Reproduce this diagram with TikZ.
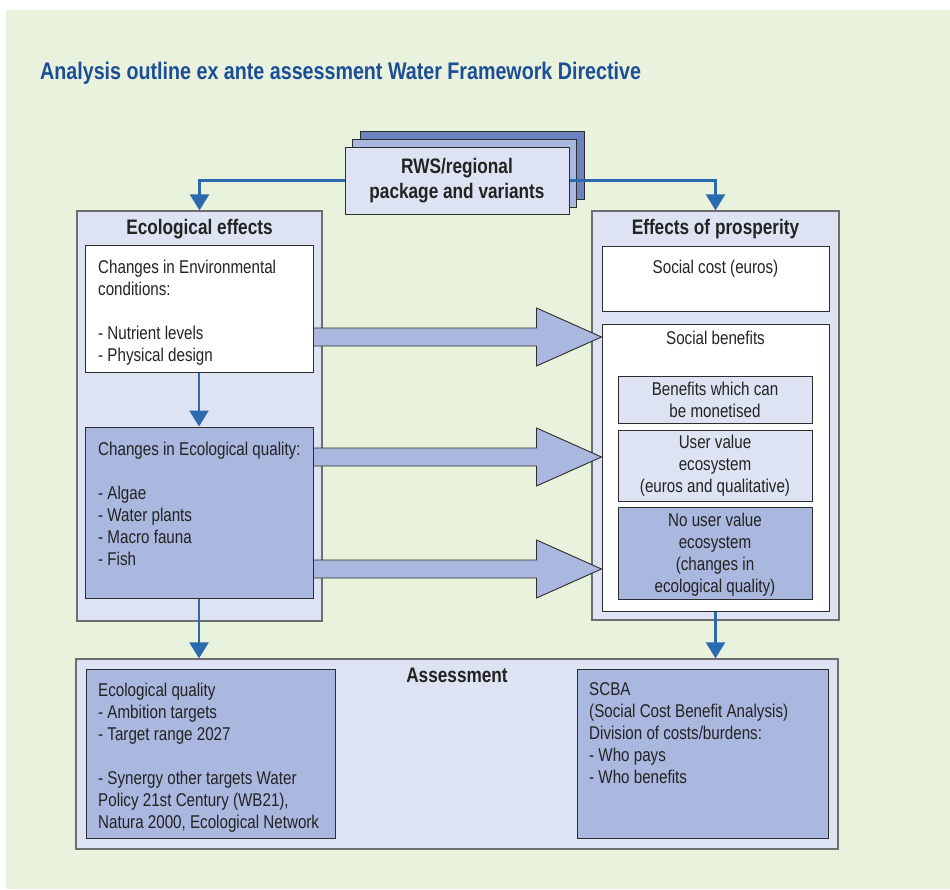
\documentclass[tikz,border=0pt]{standalone}
\usepackage{fontspec}
\setmainfont{Liberation Sans}[FakeStretch=0.82]
\usetikzlibrary{arrows.meta,calc}
\definecolor{bggreen}{RGB}{232,242,221}
\definecolor{paleblue}{RGB}{221,227,242}
\definecolor{midblue}{RGB}{170,183,222}
\definecolor{darkblue}{RGB}{108,131,192}
\definecolor{linkblue}{RGB}{44,106,176}
\definecolor{titleblue}{RGB}{28,78,152}
\definecolor{txt}{RGB}{35,35,35}
\definecolor{outerline}{RGB}{110,110,110}
\definecolor{innerline}{RGB}{45,45,45}
\tikzset{
  outerbox/.style={rectangle, draw=outerline, fill=paleblue, line width=1.2pt, inner sep=0},
  whitebox/.style={rectangle, draw=innerline, fill=white, line width=1pt, inner sep=0},
  midbox/.style={rectangle, draw=innerline, fill=midblue, line width=1pt, inner sep=0},
  paleinner/.style={rectangle, draw=innerline, fill=paleblue, line width=1pt, inner sep=0},
  darkinner/.style={rectangle, draw=innerline, fill=darkblue, line width=1pt, inner sep=0},
  body/.style={font=\fontsize{18.5}{22}\selectfont, text=txt, inner sep=0},
  head/.style={font=\fontsize{21}{25}\selectfont\bfseries, text=txt, inner sep=0},
  link/.style={draw=linkblue, line width=2.4pt, -{Triangle[width=19pt,length=16pt]}},
  barrow/.style={draw=innerline, fill=midblue, line width=0.9pt, line join=miter}
}
\begin{document}
\begin{tikzpicture}[x=1pt,y=-1pt]
\useasboundingbox (0,0) rectangle (950,889);
\fill[white] (0,0) rectangle (950,889);
\fill[bggreen] (6,10) rectangle (950,889);

% title
\node[anchor=base west, font=\fontsize{24}{28}\selectfont\bfseries, text=titleblue, inner sep=0] (title) at (40,79.3) {Analysis outline ex ante assessment Water Framework Directive};

% RWS stack
\node[darkinner, minimum width=224, minimum height=68] (rwsback) at (472,165) {};
\node[midbox, minimum width=224, minimum height=68] (rwsmid) at (464.5,173) {};
\node[paleinner, minimum width=224, minimum height=67] (rws) at (457,180.5) {};
\node[head, align=center, anchor=north] (rwstext) at (457,157.8) {RWS/regional\\package and variants};

% left column
\node[outerbox, minimum width=245, minimum height=410] (eco) at (199.5,416) {};
\node[head, anchor=base] (ecotitle) at (199.5,234.3) {Ecological effects};
\node[whitebox, minimum width=228, minimum height=127] (env) at (199,308.5) {};
\node[body, align=left, anchor=north west] (envtext) at (98,259.5) {Changes in Environmental\\conditions:\\[22pt]- Nutrient levels\\- Physical design};
\node[midbox, minimum width=228, minimum height=171] (ecoq) at (199,512.5) {};
\node[body, align=left, anchor=north west] (ecoqtext) at (98,441.5) {Changes in Ecological quality:\\[22pt]- Algae\\- Water plants\\- Macro fauna\\- Fish};

% right column
\node[outerbox, minimum width=247, minimum height=409] (prosp) at (715.5,415.5) {};
\node[head, anchor=base] (prosptitle) at (715.5,234.3) {Effects of prosperity};
\node[whitebox, minimum width=227, minimum height=65] (cost) at (715.5,278.5) {};
\node[body, anchor=north] (costtext) at (715.5,259.5) {Social cost (euros)};
\node[whitebox, minimum width=227, minimum height=287] (benef) at (715.5,467.5) {};
\node[body, anchor=north] (beneftext) at (715.5,330.8) {Social benefits};
\node[paleinner, minimum width=194, minimum height=47] (mone) at (715,399.5) {};
\node[body, align=center, anchor=north] (monetext) at (715,381.6) {Benefits which can\\be monetised};
\node[paleinner, minimum width=194, minimum height=71] (user) at (715,465.5) {};
\node[body, align=center, anchor=north] (usertext) at (715,435) {User value\\ecosystem\\(euros and qualitative)};
\node[midbox, minimum width=194, minimum height=92] (nouser) at (715,553) {};
\node[body, align=center, anchor=north] (nousertext) at (715,513.3) {No user value\\ecosystem\\(changes in\\ecological quality)};

% assessment
\node[outerbox, minimum width=762, minimum height=190] (assess) at (457,754) {};
\node[head, anchor=base] (assesstitle) at (457,682.3) {Assessment};
\node[midbox, minimum width=249, minimum height=169] (asl) at (210.5,753.5) {};
\node[body, align=left, anchor=north west] (asltext) at (98,682.5) {Ecological quality\\- Ambition targets\\- Target range 2027\\[22pt]- Synergy other targets Water\\Policy 21st Century (WB21),\\Natura 2000, Ecological Network};
\node[midbox, minimum width=251, minimum height=169] (asr) at (702.5,753.5) {};
\node[body, align=left, anchor=north west] (asrtext) at (589,682.5) {SCBA\\(Social Cost Benefit Analysis)\\Division of costs/burdens:\\- Who pays\\- Who benefits};

% connectors
\draw[link] (rws.west) -| (eco.north);
\draw[link] (rws.east) -| (prosp.north);
\draw[link] (env.south) -- (ecoq.north);
\draw[link] (ecoq.south) -- (ecoq.south |- assess.north);
\draw[link] (benef.south) -- (benef.south |- assess.north);

% block arrows
\coordinate (s1) at (env.east |- 0,337);
\coordinate (t1) at (benef.west |- 0,337);
\coordinate (s2) at (ecoq.east |- 0,457);
\coordinate (t2) at (benef.west |- 0,457);
\coordinate (s3) at (ecoq.east |- 0,569);
\coordinate (t3) at (benef.west |- 0,569);
\foreach \s/\t in {s1/t1,s2/t2,s3/t3}{
  \path[barrow] (\s) ++(0,-9) -| ($(\t)+(-65,-29)$) -- (\t) -- ($(\t)+(-65,29)$) |- ($(\s)+(0,9)$) -- cycle;
}
\end{tikzpicture}
\end{document}
